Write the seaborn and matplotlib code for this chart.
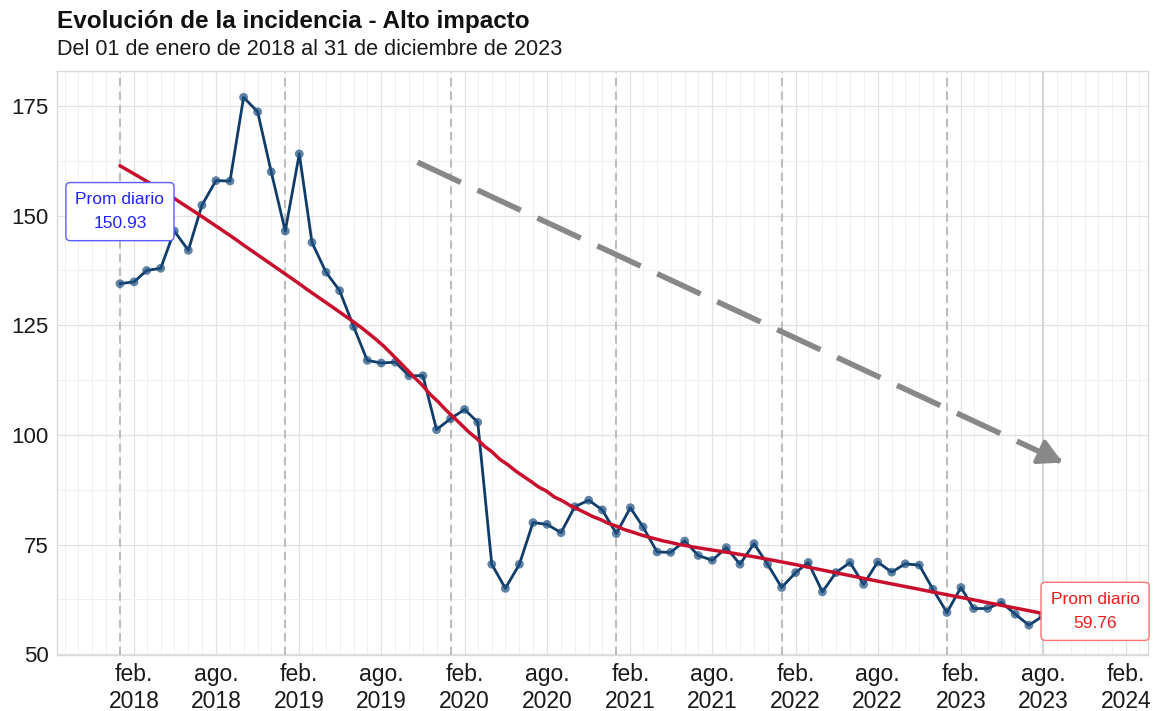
import numpy as np
import pandas as pd
import seaborn as sns
import matplotlib.pyplot as plt
import matplotlib.dates as mdates

# datos mensuales (ene 2018 - ago 2023)
meses = pd.date_range("2018-01-01", periods=68, freq="MS")
incidencia = [
    134.5, 134.9, 137.5, 138.0, 146.5, 142.1, 152.4, 158.0, 157.9, 177.0, 173.7, 160.0,
    146.5, 164.1, 143.9, 137.1, 132.9, 124.7, 117.0, 116.4, 116.6, 113.5, 113.5, 101.2,
    103.7, 105.8, 102.9, 70.5, 65.0, 70.5, 80.0, 79.6, 77.7, 83.6, 85.1, 82.9,
    77.5, 83.4, 79.0, 73.3, 73.2, 75.8, 72.5, 71.4, 74.3, 70.5, 75.2, 70.5,
    65.2, 68.6, 70.9, 64.2, 68.6, 70.9, 65.9, 71.0, 68.7, 70.6, 70.3, 64.8,
    59.5, 65.2, 60.4, 60.4, 61.8, 59.1, 56.6, 58.7,
]
ticks_x = pd.date_range("2018-02-01", "2024-02-01", freq="6MS")
etiquetas_x = ["feb.\n2018", "ago.\n2018", "feb.\n2019", "ago.\n2019", "feb.\n2020",
               "ago.\n2020", "feb.\n2021", "ago.\n2021", "feb.\n2022", "ago.\n2022",
               "feb.\n2023", "ago.\n2023", "feb.\n2024"]
ticks_y = [50, 75, 100, 125, 150, 175]
inicios_anio = pd.date_range("2018-01-01", "2023-01-01", freq="YS")
prom_inicio = 150.93
prom_fin = 59.76
flecha_ini = (pd.Timestamp("2019-10-20"), 162.2)
flecha_fin = (pd.Timestamp("2023-09-14"), 93.7)

titulo = "Evolución de la incidencia - Alto impacto"
subtitulo = "Del 01 de enero de 2018 al 31 de diciembre de 2023"

df = pd.DataFrame({"fecha": meses, "incidencia": incidencia})


# suavizado loess local lineal
def loess(x, y, xs, span=0.6):
    n = len(x)
    q = int(np.floor(n * span))
    res = []
    for x0 in xs:
        d = np.abs(x - x0)
        h = np.sort(d)[q - 1]
        w = np.clip(1 - (d / h) ** 3, 0, None) ** 3
        X = np.vstack([np.ones(n), x - x0]).T
        sw = np.sqrt(w)
        beta = np.linalg.lstsq(X * sw[:, None], y * sw, rcond=None)[0]
        res.append(beta[0])
    return np.array(res)


xnum = (df["fecha"] - df["fecha"][0]).dt.days.values / 365.25
xs_fechas = pd.date_range(meses[0], meses[-1], periods=120)
xs_num = (xs_fechas - meses[0]).days.values / 365.25
suave = pd.DataFrame({"fecha": xs_fechas,
                      "tendencia": loess(xnum, df["incidencia"].values, xs_num)})

sns.set_style("white")
plt.rcParams["font.family"] = ["Liberation Sans", "DejaVu Sans"]

fig = plt.figure(figsize=(11.63, 7.11), dpi=100)
ax = fig.add_axes([57 / 1163, 1 - 655 / 711, (1148 - 57) / 1163, (655 - 71) / 711])

ax.set_xlim(pd.Timestamp("2017-08-15"), pd.Timestamp("2024-03-20"))
ax.set_ylim(49.8, 183.0)

ax.set_xticks(ticks_x)
ax.set_xticklabels(etiquetas_x)
ax.xaxis.set_minor_locator(mdates.MonthLocator())
ax.set_yticks(ticks_y)
ax.set_yticks([62.5, 87.5, 112.5, 137.5, 162.5], minor=True)
ax.grid(which="major", color="#e2e2e2", lw=0.9)
ax.grid(which="minor", color="#f0f0f0", lw=0.7)
ax.set_axisbelow(True)
for s in ax.spines.values():
    s.set_color("#d9d9d9")
    s.set_linewidth(1)
ax.tick_params(which="major", length=3, color="#cccccc", labelcolor="#1a1a1a", pad=3)
ax.tick_params(axis="x", labelsize=16.5)
ax.tick_params(axis="y", labelsize=16)
ax.tick_params(which="minor", length=0)
for lab in ax.get_xticklabels():
    lab.set_linespacing(1.2)

for f in inicios_anio:
    ax.axvline(f, color="#bdbdbd", lw=1.5, ls=(0, (4, 2.5)), zorder=1)
ax.axvline(meses[-1], color="#d2d2d2", lw=1.2, zorder=1)

sns.lineplot(data=df, x="fecha", y="incidencia", ax=ax, color="#0f3c68", lw=2, zorder=3)
sns.scatterplot(data=df, x="fecha", y="incidencia", ax=ax, color="#1d4f80", alpha=0.7,
                s=40, edgecolor="none", zorder=4)
sns.lineplot(data=suave, x="fecha", y="tendencia", ax=ax, color="#c8102e", lw=2.5, zorder=5)

# flecha de tendencia
ax.plot([flecha_ini[0], flecha_fin[0]], [flecha_ini[1], flecha_fin[1]],
        color="#888888", lw=4, ls=(0, (8.6, 3.3)), dash_capstyle="butt", zorder=6)
dt = flecha_fin[0] - flecha_ini[0]
punta_ini = (flecha_fin[0] - dt * 0.04, flecha_fin[1] - (flecha_fin[1] - flecha_ini[1]) * 0.04)
ax.annotate("", xy=flecha_fin, xytext=punta_ini,
            arrowprops=dict(arrowstyle="-|>,head_length=0.75,head_width=0.4", mutation_scale=20,
                            color="#888888", lw=3, shrinkA=0, shrinkB=0), zorder=6)

ax.text(meses[0], prom_inicio, f"Prom diario\n{prom_inicio:.2f}", ha="center", va="center",
        multialignment="center", color="#2222ff", fontsize=12.5, linespacing=1.75, zorder=7,
        bbox=dict(boxstyle="round,pad=0.55,rounding_size=0.25", fc="white", ec="#5c5cff", lw=1))
ax.annotate(f"Prom diario\n{prom_fin:.2f}", xy=(meses[-1], prom_fin), xytext=(5.5, 0),
            textcoords="offset points", ha="left", va="center", multialignment="center",
            color="#ee1c1c", fontsize=12.5, linespacing=1.75, zorder=7,
            bbox=dict(boxstyle="round,pad=0.55,rounding_size=0.25", fc="white", ec="#ff7070", lw=1))

ax.set_xlabel("")
ax.set_ylabel("")

fig.text(57 / 1163, 1 - 10 / 711, titulo, fontsize=17.5, fontweight="bold", va="top", color="#111111")
fig.text(57 / 1163, 1 - 39 / 711, subtitulo, fontsize=15.6, va="top", color="#1a1a1a")

fig.savefig("out.png", dpi=100)
